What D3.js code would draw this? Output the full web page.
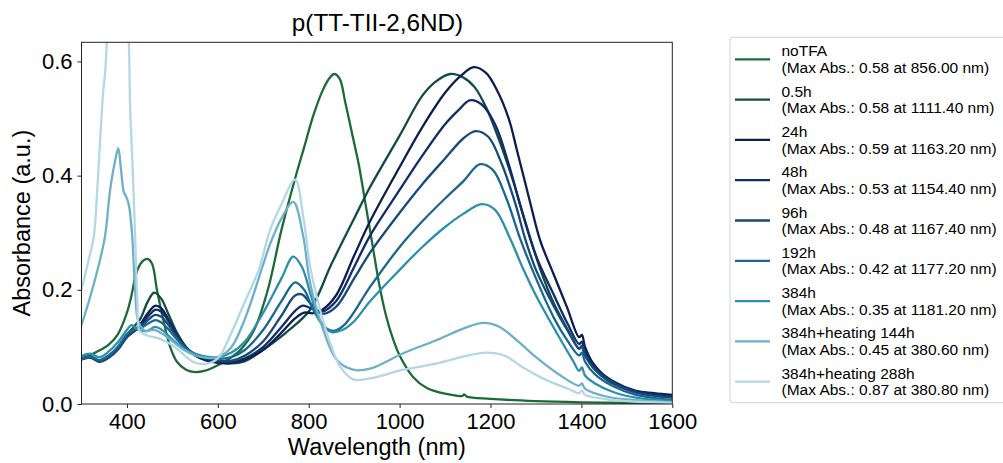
<!DOCTYPE html>
<html>
<head>
<meta charset="utf-8">
<script src="https://d3js.org/d3.v7.min.js"></script>
<style>
  body { margin: 0; background: #fff; }
  text { font-family: "Liberation Sans", Arial, sans-serif; fill: #000; }
</style>
</head>
<body>
<svg id="chart"></svg>
<script>
var w = 1003;
var h = 463;

// spectra (wavelength in nm, absorbance in a.u.)
var noTFA_nm = [300, 320, 340, 360, 380, 400, 410, 420, 433, 445, 455, 466, 480, 495, 510, 530, 550, 570, 590, 620, 650, 680, 710, 740, 770, 790, 810, 830, 845, 856, 868, 880, 895, 910, 925, 940, 955, 970, 985, 1000, 1030, 1060, 1100, 1138, 1142, 1148, 1200, 1300, 1400, 1500, 1600];
var noTFA_abs = [0.080, 0.086, 0.094, 0.104, 0.122, 0.160, 0.190, 0.228, 0.249, 0.254, 0.246, 0.200, 0.147, 0.100, 0.074, 0.060, 0.056, 0.058, 0.064, 0.077, 0.095, 0.130, 0.200, 0.305, 0.395, 0.450, 0.505, 0.548, 0.570, 0.578, 0.570, 0.530, 0.475, 0.420, 0.350, 0.280, 0.210, 0.155, 0.115, 0.085, 0.047, 0.028, 0.018, 0.014, 0.017, 0.013, 0.009, 0.005, 0.003, 0.002, 0.001];

var h05_nm = [300, 320, 340, 360, 380, 400, 415, 430, 445, 460, 475, 490, 510, 530, 550, 575, 600, 630, 660, 700, 750, 803, 850, 900, 935, 1000, 1050, 1080, 1111, 1140, 1165, 1190, 1220, 1250, 1280, 1310, 1340, 1370, 1395, 1401, 1408, 1430, 1460, 1500, 1550, 1600];
var h05_abs = [0.078, 0.082, 0.076, 0.085, 0.100, 0.122, 0.135, 0.150, 0.178, 0.195, 0.185, 0.160, 0.125, 0.100, 0.085, 0.076, 0.072, 0.071, 0.075, 0.095, 0.125, 0.165, 0.245, 0.325, 0.380, 0.470, 0.540, 0.565, 0.578, 0.572, 0.555, 0.520, 0.460, 0.390, 0.310, 0.235, 0.175, 0.130, 0.097, 0.100, 0.085, 0.060, 0.040, 0.026, 0.017, 0.012];

var h24_nm = [300, 320, 340, 360, 380, 400, 415, 430, 445, 462, 475, 490, 510, 530, 550, 575, 600, 630, 660, 700, 740, 770, 790, 810, 830, 860, 900, 935, 1000, 1050, 1100, 1135, 1163, 1190, 1214, 1240, 1258, 1285, 1309, 1338, 1368, 1395, 1401, 1408, 1426, 1463, 1514, 1560, 1600];
var h24_abs = [0.080, 0.083, 0.075, 0.083, 0.097, 0.118, 0.128, 0.140, 0.158, 0.172, 0.168, 0.150, 0.120, 0.098, 0.085, 0.077, 0.073, 0.072, 0.078, 0.095, 0.125, 0.150, 0.160, 0.159, 0.165, 0.190, 0.260, 0.320, 0.415, 0.485, 0.545, 0.575, 0.590, 0.580, 0.550, 0.500, 0.445, 0.360, 0.287, 0.229, 0.170, 0.117, 0.121, 0.100, 0.071, 0.042, 0.024, 0.019, 0.016];

var h48_nm = [300, 320, 340, 360, 380, 400, 415, 430, 445, 462, 475, 490, 510, 530, 550, 575, 600, 630, 660, 700, 740, 770, 785, 805, 830, 860, 900, 935, 1000, 1050, 1100, 1130, 1154, 1180, 1210, 1240, 1270, 1300, 1340, 1370, 1395, 1401, 1408, 1430, 1470, 1520, 1600];
var h48_abs = [0.079, 0.082, 0.074, 0.082, 0.096, 0.118, 0.127, 0.137, 0.152, 0.165, 0.162, 0.147, 0.120, 0.099, 0.087, 0.078, 0.074, 0.073, 0.080, 0.100, 0.135, 0.163, 0.172, 0.168, 0.162, 0.180, 0.240, 0.295, 0.375, 0.435, 0.490, 0.515, 0.532, 0.525, 0.490, 0.420, 0.335, 0.260, 0.190, 0.140, 0.105, 0.109, 0.092, 0.064, 0.040, 0.023, 0.014];

var h96_nm = [300, 320, 340, 360, 380, 400, 415, 430, 445, 462, 475, 490, 510, 530, 550, 575, 600, 630, 660, 700, 740, 770, 785, 805, 830, 860, 900, 935, 1000, 1050, 1100, 1140, 1167, 1195, 1225, 1255, 1276, 1300, 1340, 1370, 1395, 1401, 1408, 1430, 1470, 1520, 1600];
var h96_abs = [0.078, 0.081, 0.074, 0.081, 0.095, 0.117, 0.127, 0.135, 0.146, 0.156, 0.153, 0.140, 0.117, 0.098, 0.087, 0.080, 0.076, 0.076, 0.085, 0.110, 0.155, 0.190, 0.192, 0.175, 0.158, 0.170, 0.220, 0.265, 0.335, 0.385, 0.430, 0.465, 0.478, 0.468, 0.420, 0.350, 0.290, 0.235, 0.170, 0.128, 0.097, 0.102, 0.086, 0.060, 0.037, 0.020, 0.011];

var h192_nm = [300, 320, 340, 360, 380, 400, 415, 430, 445, 462, 475, 490, 510, 530, 550, 575, 600, 630, 660, 700, 740, 770, 790, 810, 835, 855, 880, 935, 1000, 1050, 1100, 1140, 1177, 1205, 1235, 1265, 1300, 1340, 1370, 1395, 1401, 1408, 1430, 1470, 1520, 1600];
var h192_abs = [0.079, 0.083, 0.077, 0.085, 0.100, 0.122, 0.130, 0.133, 0.140, 0.147, 0.143, 0.132, 0.113, 0.097, 0.088, 0.082, 0.079, 0.082, 0.095, 0.130, 0.180, 0.213, 0.200, 0.165, 0.135, 0.128, 0.140, 0.205, 0.275, 0.320, 0.360, 0.390, 0.420, 0.410, 0.360, 0.290, 0.220, 0.150, 0.110, 0.085, 0.090, 0.074, 0.052, 0.031, 0.016, 0.007];

var h384_nm = [300, 320, 340, 360, 380, 400, 410, 425, 445, 462, 480, 500, 525, 550, 575, 600, 630, 660, 700, 740, 766, 785, 805, 825, 850, 875, 900, 935, 1000, 1050, 1100, 1140, 1181, 1210, 1243, 1270, 1300, 1346, 1382, 1395, 1401, 1408, 1430, 1470, 1520, 1600];
var h384_abs = [0.084, 0.088, 0.082, 0.092, 0.108, 0.130, 0.138, 0.130, 0.128, 0.135, 0.128, 0.113, 0.097, 0.088, 0.083, 0.082, 0.090, 0.110, 0.160, 0.220, 0.258, 0.240, 0.190, 0.145, 0.126, 0.130, 0.145, 0.180, 0.235, 0.275, 0.310, 0.333, 0.350, 0.340, 0.290, 0.240, 0.190, 0.124, 0.075, 0.058, 0.064, 0.050, 0.036, 0.021, 0.011, 0.005];

var heat144_nm = [300, 320, 340, 352, 363, 375, 381, 387, 393, 400, 405, 411, 418, 425, 440, 460, 480, 500, 525, 550, 575, 600, 630, 660, 700, 715, 740, 766, 788, 803, 832, 862, 898, 935, 1008, 1082, 1140, 1185, 1220, 1260, 1300, 1350, 1395, 1401, 1408, 1450, 1500, 1600];
var heat144_abs = [0.138, 0.190, 0.250, 0.295, 0.375, 0.430, 0.448, 0.410, 0.372, 0.360, 0.345, 0.300, 0.200, 0.145, 0.128, 0.130, 0.122, 0.110, 0.095, 0.085, 0.081, 0.082, 0.100, 0.150, 0.245, 0.280, 0.325, 0.354, 0.293, 0.212, 0.130, 0.077, 0.060, 0.062, 0.089, 0.112, 0.132, 0.142, 0.135, 0.110, 0.082, 0.052, 0.032, 0.036, 0.027, 0.014, 0.008, 0.003];

var heat288_nm = [300, 315, 327, 335, 341, 348, 352, 356, 365, 381, 395, 404, 407, 413, 418, 423, 428, 445, 470, 500, 520, 545, 570, 600, 630, 660, 690, 715, 740, 770, 788, 803, 825, 847, 869, 898, 935, 1008, 1082, 1140, 1190, 1230, 1270, 1320, 1370, 1395, 1401, 1408, 1450, 1500, 1600];
var heat288_abs = [0.200, 0.250, 0.293, 0.380, 0.462, 0.550, 0.580, 0.637, 0.750, 0.870, 0.750, 0.637, 0.520, 0.404, 0.293, 0.180, 0.128, 0.120, 0.115, 0.103, 0.090, 0.074, 0.070, 0.080, 0.125, 0.180, 0.235, 0.305, 0.350, 0.393, 0.328, 0.241, 0.165, 0.107, 0.066, 0.043, 0.045, 0.060, 0.071, 0.083, 0.090, 0.085, 0.065, 0.043, 0.027, 0.019, 0.024, 0.016, 0.009, 0.005, 0.002];

var seriesNames = ['noTFA', '0.5h', '24h', '48h', '96h', '192h', '384h', '384h+heating 144h', '384h+heating 288h'];
var seriesNotes = ['(Max Abs.: 0.58 at 856.00 nm)', '(Max Abs.: 0.58 at 1111.40 nm)', '(Max Abs.: 0.59 at 1163.20 nm)',
  '(Max Abs.: 0.53 at 1154.40 nm)', '(Max Abs.: 0.48 at 1167.40 nm)', '(Max Abs.: 0.42 at 1177.20 nm)',
  '(Max Abs.: 0.35 at 1181.20 nm)', '(Max Abs.: 0.45 at 380.60 nm)', '(Max Abs.: 0.87 at 380.80 nm)'];
var seriesColors = ['#1c6b36', '#104c45', '#0c1e50', '#112c68', '#164a7b', '#1b6791', '#2c8fae', '#6cb0c9', '#b3d7e3'];
var xTicks = [400, 600, 800, 1000, 1200, 1400, 1600];
var yTicks = [0.0, 0.2, 0.4, 0.6];

var allNm = [noTFA_nm, h05_nm, h24_nm, h48_nm, h96_nm, h192_nm, h384_nm, heat144_nm, heat288_nm];
var allAbs = [noTFA_abs, h05_abs, h24_abs, h48_abs, h96_abs, h192_abs, h384_abs, heat144_abs, heat288_abs];

var series = seriesNames.map(function (name, i) {
  return {
    name: name,
    note: seriesNotes[i],
    color: seriesColors[i],
    points: allNm[i].map(function (v, j) { return [v, allAbs[i][j]]; })
  };
});

// plot box (window.top is reserved, so prefix these)
var plotL = 81.5, plotR = 672.3, plotT = 42.3, plotB = 404;

var x = d3.scaleLinear().domain([300, 1600]).range([plotL, plotR]);
var y = d3.scaleLinear().domain([0, 0.6335]).range([plotB, plotT]);

var svg = d3.select('#chart').attr('width', w).attr('height', h);

svg.append('defs').append('clipPath').attr('id', 'plotclip')
  .append('rect')
  .attr('x', plotL).attr('y', plotT)
  .attr('width', plotR - plotL).attr('height', plotB - plotT);

var line = d3.line()
  .x(function (d) { return x(d[0]); })
  .y(function (d) { return y(d[1]); })
  .curve(d3.curveCatmullRom.alpha(0.5));

svg.append('g')
  .attr('clip-path', 'url(#plotclip)')
  .selectAll('path')
  .data(series)
  .enter()
  .append('path')
  .attr('d', function (d) { return line(d.points); })
  .style('fill', 'none')
  .style('stroke', function (d) { return d.color; })
  .style('stroke-width', 2.3)
  .style('stroke-linejoin', 'round');

// axes
var xAxis = svg.append('g')
  .attr('transform', 'translate(0,' + plotB + ')')
  .call(d3.axisBottom(x).tickValues(xTicks).tickSize(4).tickPadding(5).tickFormat(d3.format('d')));
var yAxis = svg.append('g')
  .attr('transform', 'translate(' + plotL + ',0)')
  .call(d3.axisLeft(y).tickValues(yTicks).tickSize(4).tickPadding(5).tickFormat(d3.format('.1f')));

[xAxis, yAxis].forEach(function (g) {
  g.select('.domain').remove();
  g.selectAll('line').style('stroke', '#222').style('stroke-width', 1);
  g.selectAll('text').style('font-size', '22px').style('fill', '#000')
    .style('font-family', '"Liberation Sans", Arial, sans-serif');
});

svg.append('rect')
  .attr('x', plotL).attr('y', plotT)
  .attr('width', plotR - plotL).attr('height', plotB - plotT)
  .style('fill', 'none').style('stroke', '#222').style('stroke-width', 1);

svg.append('text')
  .attr('x', 377.5).attr('y', 31)
  .attr('text-anchor', 'middle')
  .style('font-size', '24.3px')
  .text('p(TT-TII-2,6ND)');

svg.append('text')
  .attr('x', (plotL + plotR) / 2).attr('y', 455)
  .attr('text-anchor', 'middle')
  .style('font-size', '23.5px')
  .text('Wavelength (nm)');

svg.append('text')
  .attr('transform', 'translate(30,' + (plotB + plotT) / 2 + ') rotate(-90)')
  .attr('text-anchor', 'middle')
  .style('font-size', '23.5px')
  .text('Absorbance (a.u.)');

// legend
var legend = svg.append('g');
legend.append('rect')
  .attr('x', 730).attr('y', 37.3)
  .attr('width', 290).attr('height', 365.4)
  .attr('rx', 3)
  .style('fill', '#fff').style('stroke', '#d2d2d2').style('stroke-width', 1);

var item = legend.selectAll('g.item')
  .data(series)
  .enter()
  .append('g')
  .attr('class', 'item')
  .attr('transform', function (d, i) { return 'translate(0,' + (59.3 + i * 40.3) + ')'; });

item.append('line')
  .attr('x1', 735).attr('x2', 770)
  .attr('y1', 0).attr('y2', 0)
  .style('stroke', function (d) { return d.color; })
  .style('stroke-width', 2.3);

item.append('text')
  .attr('x', 781.5).attr('y', -3)
  .style('font-size', '15.5px')
  .text(function (d) { return d.name; });

item.append('text')
  .attr('x', 781.5).attr('y', 13.6)
  .style('font-size', '15.5px')
  .text(function (d) { return d.note; });
</script>
</body>
</html>
